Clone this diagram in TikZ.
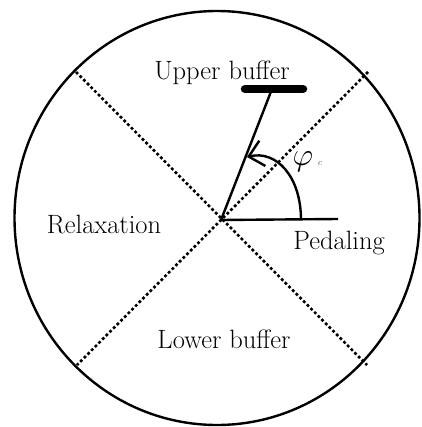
\RequirePackage{fix-cm}
\documentclass[tikz,border=0pt]{standalone}
\usetikzlibrary{arrows.meta}
\begin{document}
\begin{tikzpicture}[x=1pt,y=-1pt,
  solidline/.style={line width=2.4pt},
  dotline/.style={line width=2.6pt,dash pattern=on 2.8pt off 2.4pt},
  lbl/.style={inner sep=0pt,anchor=base,font=\fontsize{26.5}{30}\selectfont}]
\useasboundingbox (0,0) rectangle (421,427);
\draw[solidline] (217,218) ellipse [x radius=202.5, y radius=207];
\coordinate (O) at (221,220);
\coordinate (ul) at (76,72);
\coordinate (ur) at (368,72);
\coordinate (ll) at (77,365);
\coordinate (lr) at (367,365);
\draw[dotline] (ul) -- (lr);
\draw[dotline] (ur) -- (ll);
\coordinate (ped) at (338,219);
\coordinate (lev) at (272,89);
\coordinate (barL) at (245,89);
\coordinate (barR) at (303,89);
\coordinate (arcS) at (301,220);
\coordinate (arcE) at (247,157);
\draw[solidline] (O) -- (ped);
\draw[solidline] (O) -- (lev);
\draw[line width=8.5pt,line cap=round] (barL) -- (barR);
\draw[solidline,-{Straight Barb[length=14pt,width=26pt,line width=2.4pt]}] (arcS) .. controls (301,176) and (276,150) .. (arcE);
\node[lbl] (ub) at (222,80) {Upper buffer};
\node[lbl] (rel) at (104,233) {Relaxation};
\node[lbl] (pd) at (339,249) {Pedaling};
\node[lbl] (lb) at (224,348) {Lower buffer};
\node[inner sep=0pt,anchor=base,font=\fontsize{32}{36}\selectfont] (phi) at (303,166) {$\varphi$};
\node[inner sep=0pt,anchor=base,font=\fontsize{9}{10}\selectfont,text=black!70] (sub) at (320,166) {$c$};
\end{tikzpicture}
\end{document}
